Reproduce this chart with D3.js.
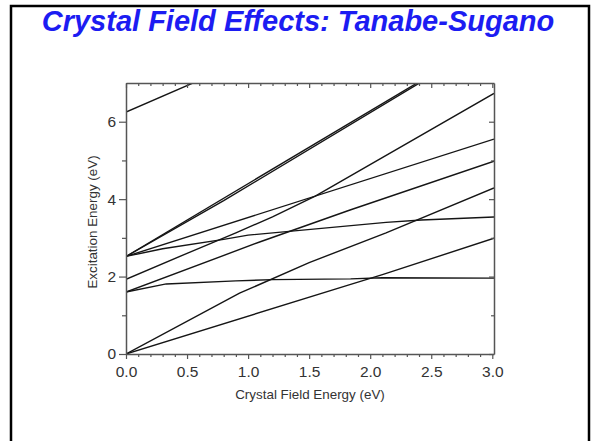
<!DOCTYPE html>
<html><head><meta charset="utf-8">
<script src="https://cdn.jsdelivr.net/npm/d3@7"></script>
<style>body{margin:0;background:#fff}svg{display:block}</style>
</head><body><svg id="c" width="594" height="441"></svg>
<script>
// ---- data ----
const titleText = "Crystal Field Effects: Tanabe-Sugano";
const xLabel = "Crystal Field Energy (eV)";
const yLabel = "Excitation Energy (eV)";
const xMajorTicks = [0, 0.5, 1.0, 1.5, 2.0, 2.5, 3.0];
const xMinorTicks = [0.1,0.2,0.3,0.4,0.6,0.7,0.8,0.9,1.1,1.2,1.3,1.4,1.6,1.7,1.8,1.9,2.1,2.2,2.3,2.4,2.6,2.7,2.8,2.9];
const yMajorTicks = [0, 2, 4, 6];
const yMinorTicks = [1, 3, 5];
const xDomain = [0, 3.014];
const yDomain = [0, 7];
// each level: crystal-field energies (x) and excitation energies (y)
const levelL0x = [0, 0.6];              const levelL0y = [6.25, 7.07];
const levelD1x = [0, 2.4];              const levelD1y = [2.52, 7.03];
const levelD2x = [0, 0.8, 2.42];        const levelD2y = [2.52, 3.96, 7.03];
const levelMx  = [0, 3.014];            const levelMy  = [2.52, 5.55];
const levelPx  = [0, 0.3, 0.8, 1.0, 2.13, 2.42, 3.014]; const levelPy = [2.52, 2.72, 2.96, 3.07, 3.40, 3.46, 3.54];
const levelAx  = [0, 0.5, 0.9, 1.2, 1.55, 3.014];  const levelAy = [1.93, 2.6, 3.13, 3.54, 4.08, 6.73];
const levelBx  = [0, 1.1, 1.835, 3.014]; const levelBy  = [1.6, 2.9, 3.72, 4.98];
const levelFx  = [0, 0.33, 0.9, 1.2, 1.84, 2.1, 3.014]; const levelFy = [1.6, 1.81, 1.89, 1.92, 1.94, 1.97, 1.96];
const levelZ1x = [0, 0.93, 1.5, 2.13, 3.014]; const levelZ1y = [0, 1.57, 2.36, 3.13, 4.29];
const levelZ2x = [0, 1.84, 2.1, 3.014]; const levelZ2y = [0, 1.8, 2.05, 2.99];
const levels = [
  [levelL0x, levelL0y], [levelD1x, levelD1y], [levelD2x, levelD2y], [levelMx, levelMy],
  [levelPx, levelPy], [levelAx, levelAy], [levelBx, levelBy], [levelFx, levelFy],
  [levelZ1x, levelZ1y], [levelZ2x, levelZ2y]
];

// ---- drawing ----
const svg = d3.select("#c");
const x = d3.scaleLinear().domain(xDomain).range([126, 494]);
const y = d3.scaleLinear().domain(yDomain).range([354, 83]);
const font = "Liberation Sans, Arial, sans-serif";

// frame
svg.append("path").attr("d", "M11,445 V6 H589 V445").attr("fill","none").attr("stroke","#000").attr("stroke-width",2.5);

// title
svg.append("text").attr("x", 298).attr("y", 31).attr("text-anchor","middle")
  .attr("font-family",font).attr("font-weight","bold").attr("font-style","italic")
  .attr("font-size", 29).attr("fill","#1c1cf2").text(titleText);

svg.append("clipPath").attr("id","clip").append("rect")
  .attr("x", x(0)).attr("y", y(7)).attr("width", x(xDomain[1]) - x(0)).attr("height", y(0) - y(7));

const line = d3.line().x(d => x(d[0])).y(d => y(d[1]));
svg.append("g").attr("clip-path","url(#clip)").selectAll("path").data(levels).join("path")
  .attr("d", d => line(d[0].map((v,i) => [v, d[1][i]])))
  .attr("fill","none").attr("stroke","#151515").attr("stroke-width",1.4);

const axCol = "#555";
function styleAxis(g){
  g.selectAll(".domain").attr("stroke", axCol).attr("stroke-width", 1.5);
  g.selectAll(".tick line").attr("stroke", axCol).attr("stroke-width", 1.2);
  g.selectAll(".tick text").attr("fill","#333").attr("font-family",font).attr("font-size",15.5);
}
// bottom
svg.append("g").attr("transform",`translate(0,${y(0)})`)
  .call(d3.axisBottom(x).tickValues(xMinorTicks).tickSize(3).tickFormat(""))
  .call(styleAxis).select(".domain").remove();
svg.append("g").attr("transform",`translate(0,${y(0)})`)
  .call(d3.axisBottom(x).tickValues(xMajorTicks).tickSize(5).tickSizeOuter(0).tickPadding(7).tickFormat(d3.format(".1f")))
  .call(styleAxis);
// top
svg.append("g").attr("transform",`translate(0,${y(7)})`)
  .call(d3.axisBottom(x).tickValues(xMinorTicks).tickSize(3).tickFormat("")).call(styleAxis).select(".domain").remove();
svg.append("g").attr("transform",`translate(0,${y(7)})`)
  .call(d3.axisBottom(x).tickValues(xMajorTicks).tickSize(5).tickSizeOuter(0).tickFormat("")).call(styleAxis);
// left
svg.append("g").attr("transform",`translate(${x(0)},0)`)
  .call(d3.axisLeft(y).tickValues(yMinorTicks).tickSize(4).tickFormat("")).call(styleAxis).select(".domain").remove();
svg.append("g").attr("transform",`translate(${x(0)},0)`)
  .call(d3.axisLeft(y).tickValues(yMajorTicks).tickSize(7).tickSizeOuter(0).tickPadding(3).tickFormat(d3.format("d")))
  .call(styleAxis);
// right
svg.append("g").attr("transform",`translate(${x(xDomain[1])},0)`)
  .call(d3.axisLeft(y).tickValues(yMinorTicks).tickSize(3).tickFormat("")).call(styleAxis).select(".domain").remove();
svg.append("g").attr("transform",`translate(${x(xDomain[1])},0)`)
  .call(d3.axisLeft(y).tickValues(yMajorTicks).tickSize(5).tickSizeOuter(0).tickFormat("")).call(styleAxis);

// axis labels
svg.append("text").attr("x", 310).attr("y", 399).attr("text-anchor","middle")
  .attr("font-family",font).attr("font-size",13.4).attr("fill","#333").text(xLabel);
svg.append("text").attr("transform","translate(97,222) rotate(-90)").attr("text-anchor","middle")
  .attr("font-family",font).attr("font-size",13.4).attr("fill","#333").text(yLabel);
</script></body></html>
